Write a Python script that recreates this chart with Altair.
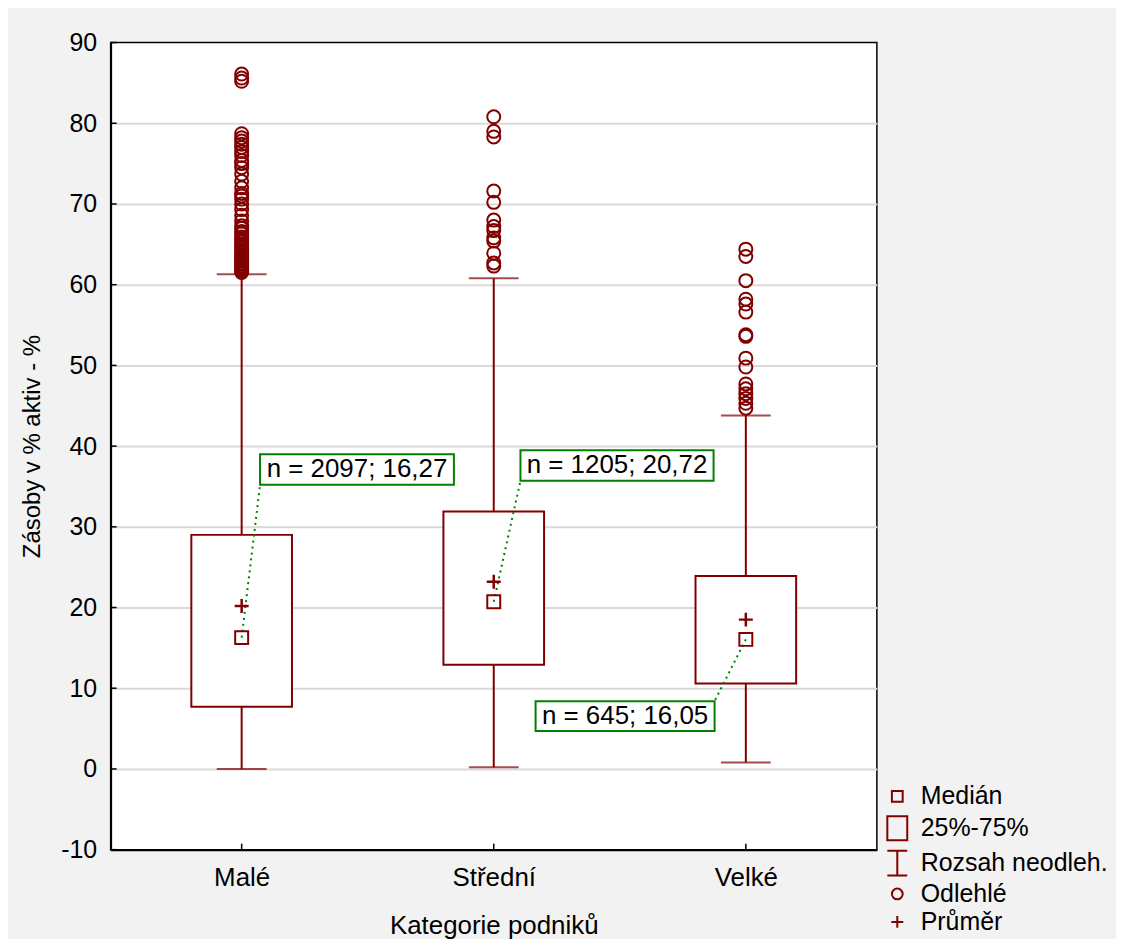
import json
import altair as alt
import pandas as pd

# ---------------- data ----------------
categories = ["Malé", "Střední", "Velké"]
q1 = [7.7, 12.9, 10.6]
q3 = [29.0, 31.9, 23.9]
medians = [16.27, 20.72, 16.05]
means = [20.2, 23.2, 18.5]
whisker_low = [0.0, 0.2, 0.8]
whisker_high = [61.3, 60.8, 43.8]
counts = [2097, 1205, 645]

outliers_male = [61.5, 61.7, 61.9, 62.1, 62.3, 62.5, 62.7, 62.9, 63.1, 63.4, 63.6,
                 63.9, 64.2, 64.5, 64.8, 65.0, 65.3, 65.6, 65.9, 66.3, 66.6, 67.0,
                 67.3, 67.9, 68.6, 69.3, 70.0, 70.6, 71.0, 71.3, 72.0, 72.8, 73.7,
                 74.5, 75.0, 75.4, 76.0, 76.5, 77.0, 77.4, 77.8, 78.2, 78.7,
                 85.2, 85.6, 86.1]
outliers_stredni = [62.3, 62.7, 63.9, 65.4, 65.8, 66.7, 67.2, 68.0, 70.2, 71.6,
                    78.3, 79.0, 80.8]
outliers_velke = [44.7, 45.3, 45.9, 46.5, 47.1, 47.7, 49.8, 50.9, 53.6, 53.8,
                  56.6, 57.6, 58.2, 60.5, 63.5, 64.4]

y_ticks = list(range(-10, 91, 10))
legend_labels = ["Medián", "25%-75%", "Rozsah neodleh.", "Odlehlé", "Průměr"]

# annotation box layout (in data units)
label_box_x0 = [1.073, 2.106, 2.166]
label_box_x1 = [1.842, 2.872, 2.876]
label_box_y0 = [35.2, 35.7, 4.7]
label_box_y1 = [39.0, 39.5, 8.4]
label_anchor_x = [1.073, 2.106, 2.876]
label_anchor_y = [35.2, 35.7, 8.4]

# ---------------- styles ----------------
MAROON = "#800000"
GREEN = "#008000"
FONT = "Liberation Sans"

pos = [1, 2, 3]
stats = pd.DataFrame({
    "pos": pos, "cat": categories, "q1": q1, "q3": q3, "median": medians,
    "mean": means, "lo": whisker_low, "hi": whisker_high, "n": counts,
    "bx0": label_box_x0, "bx1": label_box_x1, "by0": label_box_y0, "by1": label_box_y1,
    "ax": label_anchor_x, "ay": label_anchor_y,
})
stats["label"] = [f"n = {n}; " + f"{m:.2f}".replace(".", ",") for n, m in zip(counts, medians)]
stats["tx"] = (stats["bx0"] + stats["bx1"]) / 2
stats["ty"] = (stats["by0"] + stats["by1"]) / 2

out_rows = []
for p, vals in zip(pos, [outliers_male, outliers_stredni, outliers_velke]):
    for v in vals:
        out_rows.append({"pos": p, "value": v})
outliers = pd.DataFrame(out_rows)

caps = pd.concat([
    pd.DataFrame({"pos": pos, "value": whisker_low}),
    pd.DataFrame({"pos": pos, "value": whisker_high}),
])

yt = pd.DataFrame({"value": y_ticks})
leg = pd.DataFrame({"label": legend_labels, "pos": [1] * 5, "value": [-100] * 5})

xscale = alt.Scale(domain=[0.5, 3.5], nice=False, zero=False)
yscale = alt.Scale(domain=[-10, 90], nice=False, zero=False)

label_expr = json.dumps(categories, ensure_ascii=False) + "[datum.value - 1]"

xaxis = alt.Axis(values=pos, labelExpr=label_expr, tickSize=0, grid=False,
                 domain=True, domainColor="black", domainWidth=2,
                 labelFont=FONT, labelFontSize=26, labelColor="black", labelPadding=15,
                 title="Kategorie podniků", titleFont=FONT, titleFontSize=26,
                 titleFontWeight="normal", titleColor="black", titlePadding=22)
yaxis = alt.Axis(values=y_ticks, tickSize=0, grid=True,
                 labelExpr="datum.value < 0 ? '-' + abs(datum.value) : '' + datum.value",
                 gridColor={"condition": {"test": "datum.value <= -10 || datum.value >= 90",
                                          "value": "transparent"}, "value": "#d9d9d9"},
                 gridWidth=2, domain=True, domainColor="black", domainWidth=2,
                 labelFont=FONT, labelFontSize=25, labelColor="black", labelPadding=14,
                 title="Zásoby v % aktiv - %", titleFont=FONT, titleFontSize=24,
                 titleFontWeight="normal", titleColor="black", titlePadding=16)


def X(field):
    return alt.X(f"{field}:Q", scale=xscale, axis=xaxis)


def Y(field):
    return alt.Y(f"{field}:Q", scale=yscale, axis=yaxis)


base = alt.Chart(stats)

whiskers = base.mark_rule(color=MAROON, strokeWidth=2).encode(
    x=X("pos"), y=Y("lo"), y2="hi")
cap_marks = alt.Chart(caps).mark_tick(orient="horizontal", size=50, thickness=2,
                                      color=MAROON).encode(x=X("pos"), y=Y("value"))
boxes = base.mark_bar(size=101, fill="white", stroke=MAROON, strokeWidth=2).encode(
    x=X("pos"), y=Y("q1"), y2="q3")
leaders = base.mark_rule(color=GREEN, strokeWidth=2, strokeDash=[2, 4]).encode(
    x=X("pos"), y=Y("median"), x2="ax", y2="ay")
median_marks = base.mark_point(shape="square", size=169, filled=False, color=MAROON,
                               strokeWidth=2, opacity=1).encode(x=X("pos"), y=Y("median"))
mean_marks = base.mark_point(shape="M-1,0H1M0,-1V1", size=196, filled=False, color=MAROON,
                             strokeWidth=2.5, opacity=1).encode(x=X("pos"), y=Y("mean"))
outlier_marks = alt.Chart(outliers).mark_point(shape="circle", size=170, filled=False,
                                               color=MAROON, strokeWidth=2, opacity=1).encode(
    x=X("pos"), y=Y("value"))
label_boxes = base.mark_rect(fill="white", stroke=GREEN, strokeWidth=2).encode(
    x=X("bx0"), x2="bx1", y=Y("by0"), y2="by1")
label_texts = base.mark_text(font=FONT, fontSize=26, color="black", align="center",
                             baseline="middle").encode(x=X("tx"), y=Y("ty"), text="label:N")

ytick_marks = alt.Chart(yt).mark_rule(color="black", strokeWidth=1.5).encode(
    y=Y("value"), x=alt.value(0), x2=alt.value(6))
xtick_marks = base.mark_rule(color="black", strokeWidth=1.5).encode(
    x=X("pos"), y=alt.value(810), y2=alt.value(804))

shape_paths = [
    "M-0.54,-0.54H0.54V0.54H-0.54Z",
    "M-1,-1.2H1V1.2H-1Z",
    "M-1,-1.24H1M0,-1.24V1.24M-1,1.24H1",
    "M0.54,0A0.54,0.54,0,1,1,-0.54,0A0.54,0.54,0,1,1,0.54,0",
    "M-0.6,0H0.6M0,-0.6V0.6",
]
legend_layer = alt.Chart(leg).mark_point(filled=False, color=MAROON, strokeWidth=2,
                                         clip=True, opacity=1).encode(
    x=X("pos"), y=Y("value"),
    shape=alt.Shape("label:N", scale=alt.Scale(domain=legend_labels, range=shape_paths),
                    sort=legend_labels,
                    legend=alt.Legend(title=None, orient="none", legendX=777, legendY=744,
                                      symbolSize=400, symbolStrokeWidth=2,
                                      symbolStrokeColor=MAROON, symbolFillColor="transparent",
                                      labelFont=FONT, labelFontSize=25, labelColor="black",
                                      labelOffset=11, rowPadding=2, padding=0,
                                      labelLimit=400)))

chart = alt.layer(
    whiskers, cap_marks, boxes, leaders, median_marks, mean_marks, outlier_marks,
    label_boxes, label_texts, ytick_marks, xtick_marks, legend_layer,
).properties(
    width=769, height=810,
    autosize=alt.AutoSizeParams(type="none"),
    padding={"left": 103, "top": 33, "right": 240, "bottom": 88},
    background="#f2f2f2",
).configure_view(
    fill="white", stroke="black", strokeWidth=1.5,
)

chart.save("out.html", embed_options={"renderer": "svg", "actions": False})
